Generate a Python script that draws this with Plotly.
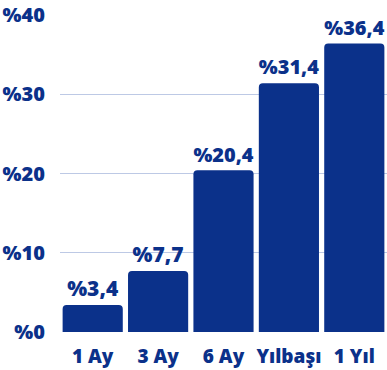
import plotly.graph_objects as go

categories = ["1 Ay", "3 Ay", "6 Ay", "Yılbaşı", "1 Yıl"]
values = [3.4, 7.7, 20.4, 31.4, 36.4]
y_ticks = [0, 10, 20, 30, 40]
y_tick_labels = ["%0", "%10", "%20", "%30", "%40"]

navy = "#0B318A"
labels = ["%" + f"{v:.1f}".replace(".", ",") for v in values]

fig = go.Figure(go.Bar(
    x=categories, y=values, marker=dict(color=navy, line=dict(width=0)),
    text=labels, textposition="outside", cliponaxis=False,
    textfont=dict(family="Open Sans", size=21, color=navy, weight=800),
))
fig.update_layout(
    width=387, height=370, margin=dict(l=60, r=0, t=15, b=38),
    paper_bgcolor="white", plot_bgcolor="white",
    bargap=0.08, barcornerradius=4, showlegend=False,
    font=dict(family="Open Sans", color=navy),
)
fig.update_xaxes(showgrid=False, showline=False, ticks="",
                 tickfont=dict(size=19, color=navy, weight=800), ticklabelstandoff=11)
fig.update_yaxes(range=[0, 40], tickvals=y_ticks, ticktext=y_tick_labels,
                 showgrid=True, gridcolor="#BDC9E5", gridwidth=1, zeroline=False,
                 tickfont=dict(size=20, color=navy, weight=800), ticklabelstandoff=14)
fig.write_html("out.html")
